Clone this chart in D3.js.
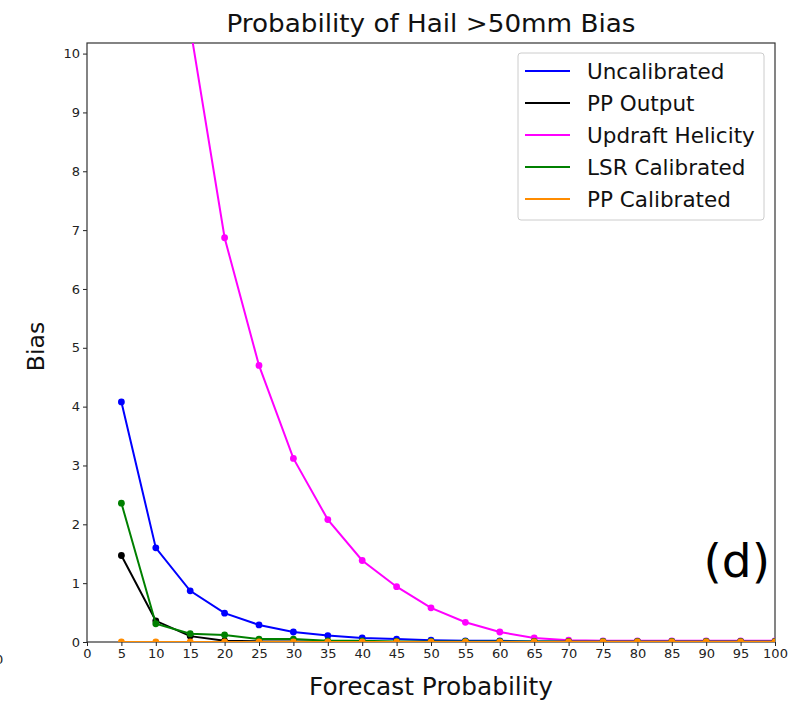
<!DOCTYPE html>
<html>
<head>
<meta charset="utf-8">
<script src="https://cdn.jsdelivr.net/npm/d3@7"></script>
<style>
body { margin: 0; background: #fff; }
text { font-family: "DejaVu Sans", sans-serif; }
</style>
</head>
<body>
<div id="chart"></div>
<script>
const width = 791
const height = 701
const margin = { top: 43, bottom: 59, left: 87, right: 16 }

// data
const probs = [5, 10, 15, 20, 25, 30, 35, 40, 45, 50, 55, 60, 65, 70, 75, 80, 85, 90, 95, 100]
const uncalibrated = [4.08, 1.60, 0.87, 0.49, 0.29, 0.17, 0.11, 0.07, 0.05, 0.03, 0.02, 0.02, 0.01, 0.01, 0.01, 0.01, 0.01, 0.01, 0.01, 0.01]
const ppOutput = [1.47, 0.36, 0.10, 0.02, 0.01, 0.01, 0.01, 0, 0, 0, 0, 0, 0, 0, 0, 0, 0, 0, 0, 0]
const updraftHelicity = [10.45, 10.45, 10.45, 6.87, 4.70, 3.12, 2.08, 1.385, 0.94, 0.58, 0.335, 0.17, 0.07, 0.03, 0.02, 0.02, 0.02, 0.02, 0.02, 0.02]
const lsrCalibrated = [2.36, 0.31, 0.14, 0.12, 0.05, 0.05, 0.02, 0.02, 0.01, 0.01, 0.01, 0.01, 0.01, 0.01, 0.01, 0.01, 0.01, 0.01, 0.01, 0.01]
const ppCalibrated = [0, 0, 0, 0, 0, 0, 0, 0, 0, 0, 0, 0, 0, 0, 0, 0, 0, 0, 0, 0]
const xTicks = d3.range(0, 101, 5)
const yTicks = d3.range(0, 11, 1)

// UH series starts at 15 (no values at 5, 10)
const uhStart = 2

const series = [
    { name: "Uncalibrated", color: "#0000ff", values: uncalibrated, start: 0 },
    { name: "PP Output", color: "#000000", values: ppOutput, start: 0 },
    { name: "Updraft Helicity", color: "#ff00ff", values: updraftHelicity, start: uhStart },
    { name: "LSR Calibrated", color: "#008000", values: lsrCalibrated, start: 0 },
    { name: "PP Calibrated", color: "#ff8c00", values: ppCalibrated, start: 0 }
]

const svg = d3.select("#chart").append("svg")
    .attr("width", width)
    .attr("height", height)

const innerW = width - margin.left - margin.right
const innerH = height - margin.top - margin.bottom

let x = d3.scaleLinear().domain([0, 100]).range([margin.left, margin.left + innerW])
let y = d3.scaleLinear().domain([0, 10.18]).range([height - margin.bottom, margin.top])

svg.append("clipPath").attr("id", "clip")
    .append("rect")
    .attr("x", margin.left).attr("y", margin.top)
    .attr("width", innerW).attr("height", innerH)

let xAxis = d3.axisBottom(x).tickValues(xTicks).tickSize(4).tickPadding(3)
let yAxis = d3.axisLeft(y).tickValues(yTicks).tickSize(4).tickPadding(3)

let xAxisGroup = svg.append("g").attr("transform", `translate(0, ${height - margin.bottom})`).call(xAxis)
let yAxisGroup = svg.append("g").attr("transform", `translate(${margin.left}, 0)`).call(yAxis)

xAxisGroup.select(".domain").remove()
yAxisGroup.select(".domain").remove()
svg.selectAll(".tick text").attr("font-size", 13).attr("fill", "#222")
    .style("font-family", "DejaVu Sans")
svg.selectAll(".tick line").attr("stroke", "#222")

// frame
svg.append("rect")
    .attr("x", margin.left).attr("y", margin.top)
    .attr("width", innerW).attr("height", innerH)
    .attr("fill", "none").attr("stroke", "#333").attr("stroke-width", 1.2)

let elementGroup = svg.append("g").attr("clip-path", "url(#clip)")

let line = d3.line()
    .x(d => x(d[0]))
    .y(d => y(d[1]))

series.forEach(s => {
    let pts = probs.map((p, i) => [p, s.values[i]]).slice(s.start)
    let g = elementGroup.append("g")
    g.append("path")
        .attr("d", line(pts))
        .attr("fill", "none")
        .attr("stroke", s.color)
        .attr("stroke-width", 2)
    g.selectAll("circle").data(pts).enter().append("circle")
        .attr("cx", d => x(d[0]))
        .attr("cy", d => y(d[1]))
        .attr("r", 3.4)
        .attr("fill", s.color)
})

// titles
svg.append("text")
    .attr("x", margin.left + innerW / 2).attr("y", 32)
    .attr("text-anchor", "middle").attr("font-size", 24).attr("fill", "#111")
    .attr("textLength", 409).attr("lengthAdjust", "spacingAndGlyphs")
    .text("Probability of Hail >50mm Bias")

svg.append("text")
    .attr("x", margin.left + innerW / 2).attr("y", 695)
    .attr("text-anchor", "middle").attr("font-size", 24).attr("fill", "#111")
    .attr("textLength", 244).attr("lengthAdjust", "spacingAndGlyphs")
    .text("Forecast Probability")

svg.append("text")
    .attr("transform", `translate(44, 346.5) rotate(-90)`)
    .attr("text-anchor", "middle").attr("font-size", 23.5).attr("fill", "#111")
    .text("Bias")

svg.append("text")
    .attr("x", 770).attr("y", 577)
    .attr("text-anchor", "end").attr("font-size", 47).attr("fill", "#000")
    .text("(d)")

// cut-off label from the neighbouring panel
svg.append("text")
    .attr("x", -5).attr("y", 664)
    .attr("font-size", 13).attr("fill", "#222")
    .text("0")

// legend
let legend = svg.append("g")
legend.append("rect")
    .attr("x", 518).attr("y", 53)
    .attr("width", 246).attr("height", 167)
    .attr("rx", 3)
    .attr("fill", "#fff").attr("fill-opacity", 0.8)
    .attr("stroke", "#ccc")
series.forEach((s, i) => {
    let ly = 71 + i * 32
    legend.append("line")
        .attr("x1", 525).attr("x2", 570)
        .attr("y1", ly).attr("y2", ly)
        .attr("stroke", s.color).attr("stroke-width", 2)
    legend.append("text")
        .attr("x", 587).attr("y", ly + 7.5)
        .attr("font-size", 21.5).attr("fill", "#111")
        .text(s.name)
})
</script>
</body>
</html>
